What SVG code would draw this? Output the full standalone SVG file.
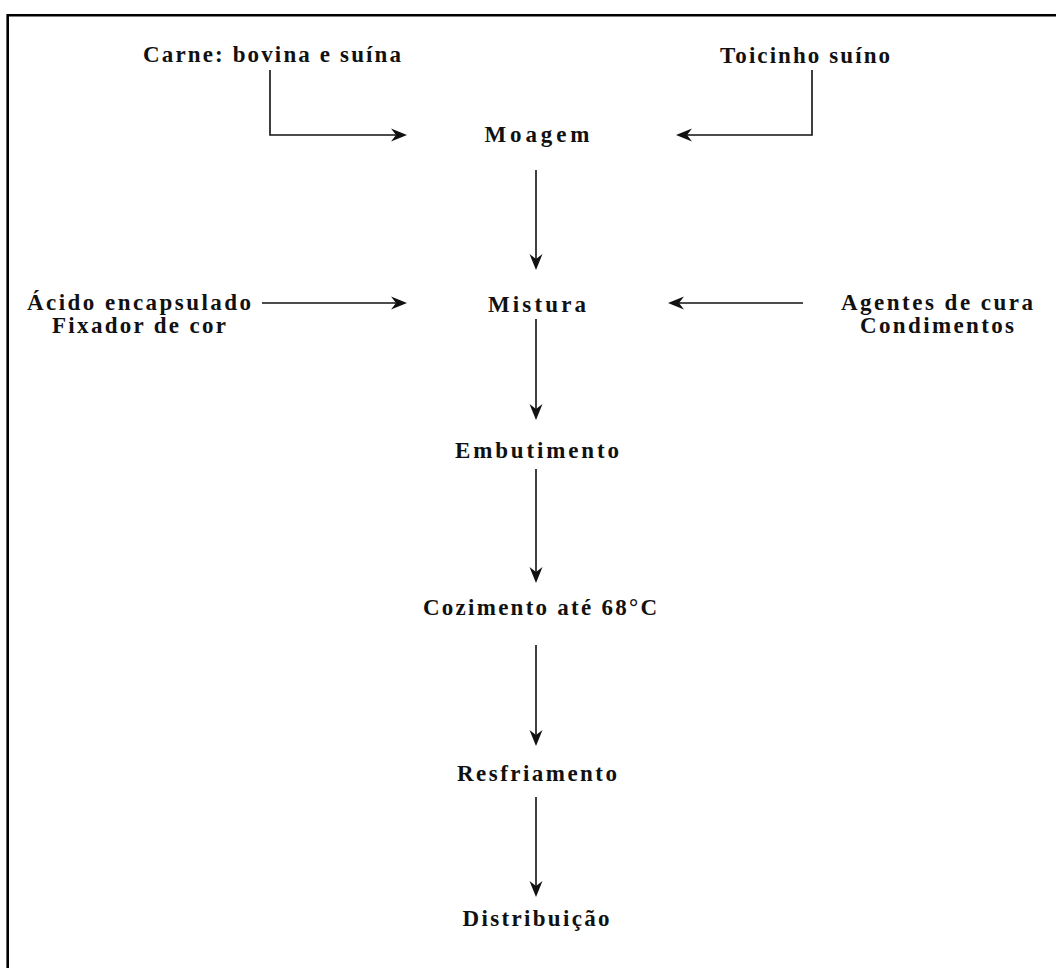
<svg xmlns="http://www.w3.org/2000/svg" width="1056" height="968" viewBox="0 0 1056 968">
<style>
text{font-family:"Liberation Serif","Times New Roman",serif;font-weight:bold;font-size:23px;fill:#111;text-anchor:middle}
.c{fill:none;stroke:#111;stroke-width:1.6}
.frame{stroke:#000;stroke-width:2.6;fill:none}
</style>
<defs>
<marker id="ah" markerUnits="userSpaceOnUse" viewBox="-17 -8 18 16" refX="-9" refY="0" markerWidth="18" markerHeight="16" orient="auto">
<path d="M0,0 L-16,-6.5 L-11,0 L-16,6.5 Z" fill="#111"/>
</marker>
</defs>
<rect width="1056" height="968" fill="#fff"/>
<path class="frame" d="M7.7,968 V15.3 H1056"/>
<g id="connectors">
<path class="c" d="M270,70 V135 H398" marker-end="url(#ah)"/>
<path class="c" d="M812,70 V135 H685" marker-end="url(#ah)"/>
<path class="c" d="M262,303 H398" marker-end="url(#ah)"/>
<path class="c" d="M803,303 H677" marker-end="url(#ah)"/>
<path class="c" d="M536,170 V261" marker-end="url(#ah)"/>
<path class="c" d="M536,319 V411" marker-end="url(#ah)"/>
<path class="c" d="M536,469 V574" marker-end="url(#ah)"/>
<path class="c" d="M536,645 V737" marker-end="url(#ah)"/>
<path class="c" d="M536,797 V888" marker-end="url(#ah)"/>
</g>
<g id="carne"><text x="272" y="62" textLength="258" lengthAdjust="spacing">Carne: bovina e suína</text></g>
<g id="toicinho"><text x="805" y="63" textLength="170" lengthAdjust="spacing">Toicinho suíno</text></g>
<g id="moagem"><text x="537" y="142" textLength="105" lengthAdjust="spacing">Moagem</text></g>
<g id="acido"><text x="139" y="310" textLength="224" lengthAdjust="spacing">Ácido encapsulado</text><text x="139" y="333" textLength="174" lengthAdjust="spacing">Fixador de cor</text></g>
<g id="mistura"><text x="537" y="312" textLength="98" lengthAdjust="spacing">Mistura</text></g>
<g id="agentes"><text x="937" y="310" textLength="192" lengthAdjust="spacing">Agentes de cura</text><text x="937" y="333" textLength="154" lengthAdjust="spacing">Condimentos</text></g>
<g id="embutimento"><text x="537" y="458" textLength="164" lengthAdjust="spacing">Embutimento</text></g>
<g id="cozimento"><text x="540" y="615" textLength="234" lengthAdjust="spacing">Cozimento até 68°C</text></g>
<g id="resfriamento"><text x="537" y="781" textLength="160" lengthAdjust="spacing">Resfriamento</text></g>
<g id="distribuicao"><text x="536" y="926" textLength="147" lengthAdjust="spacing">Distribuição</text></g>
</svg>
